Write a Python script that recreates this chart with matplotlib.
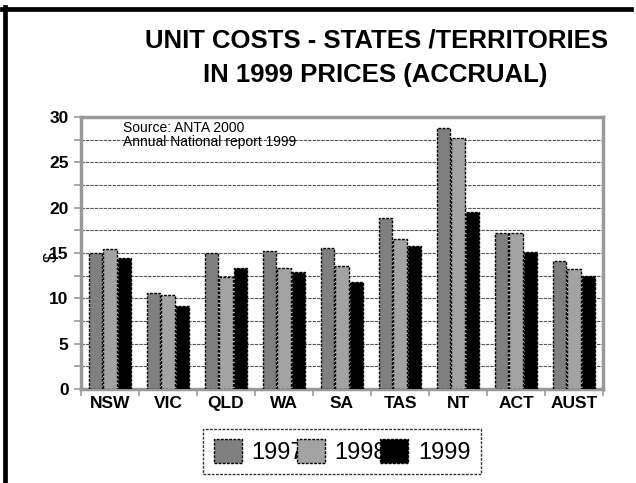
import matplotlib
import numpy as np

matplotlib.use("Agg")
import matplotlib.pyplot as plt
from matplotlib.lines import Line2D
from matplotlib.patches import Patch

plt.rcParams["font.family"] = ["Liberation Sans", "DejaVu Sans"]

# Unit costs ($/hour)
states = ["NSW", "VIC", "QLD", "WA", "SA", "TAS", "NT", "ACT", "AUST"]
years = ["1997", "1998", "1999"]
cost_1997 = [15.0, 10.6, 15.0, 15.2, 15.6, 18.9, 28.8, 17.2, 14.1]
cost_1998 = [15.4, 10.4, 12.3, 13.4, 13.6, 16.5, 27.7, 17.2, 13.2]
cost_1999 = [14.5, 9.2, 13.4, 12.9, 11.8, 15.8, 19.5, 15.1, 12.5]
colors = ["#808080", "#a3a3a3", "#000000"]

W, H = 636, 483
fig = plt.figure(figsize=(W / 100, H / 100), dpi=100)
ax = fig.add_axes([81 / W, 1 - 389 / H, 522 / W, 272 / H])

x = np.arange(len(states))
bw = 0.25
dash = (0, (2, 1))
for i, (vals, col) in enumerate(zip([cost_1997, cost_1998, cost_1999], colors)):
    ax.bar(x + (i - 1) * bw, vals, width=bw * 0.95, color=col, edgecolor="black",
           linewidth=1.0, linestyle=dash, zorder=3)

ax.set_xlim(-0.5, len(states) - 0.5)
ax.set_ylim(0, 30)
ax.set_yticks(np.arange(0, 31, 5))
ax.set_yticks(np.arange(0, 31, 2.5), minor=True)
ax.set_xticks(x)
ax.set_xticklabels(states, fontsize=12.5, fontweight="bold")
ax.set_xticks(np.arange(-0.5, len(states), 1), minor=True)
for lab in ax.get_yticklabels():
    lab.set_fontsize(12.5)
    lab.set_fontweight("bold")
ax.tick_params(axis="x", which="major", length=0, pad=5)
ax.tick_params(axis="x", which="minor", length=5, color="#999999", width=1.2, direction="out")
ax.tick_params(axis="y", which="both", length=5, color="#999999", width=1.2, pad=4)
ax.grid(True, axis="y", which="both", linestyle=(0, (3, 1)), linewidth=0.8, color="#555555", zorder=1)
for sp in ax.spines.values():
    sp.set_color("#999999")
    sp.set_linewidth(2.5)

ax.text(0.08, 0.985, "Source: ANTA 2000\nAnnual National report 1999", transform=ax.transAxes,
        fontsize=10, va="top", ha="left", linespacing=0.95, zorder=4)

fig.text(52 / W, 1 - 257 / H, "$", rotation=90, fontsize=13, ha="center", va="center")

fig.text(377 / W, 1 - 40 / H, "UNIT COSTS - STATES /TERRITORIES", fontsize=18.5,
         fontweight="bold", ha="center", va="center")
fig.text(375 / W, 1 - 75 / H, "IN 1999 PRICES (ACCRUAL)", fontsize=18.5,
         fontweight="bold", ha="center", va="center")

handles = [Patch(facecolor=c, edgecolor="black", linewidth=1.0, linestyle=dash) for c in colors]
leg = fig.legend(handles, years, loc="center", bbox_to_anchor=(342 / W, 1 - 451.5 / H), ncol=3,
                 fontsize=17, frameon=True, fancybox=False, handlelength=1.2, handleheight=1.15,
                 handletextpad=0.4, columnspacing=-0.3, borderpad=0.45, borderaxespad=0)
leg.get_frame().set_edgecolor("black")
leg.get_frame().set_linestyle((0, (2, 1)))
leg.get_frame().set_linewidth(1.0)

# slide frame
fig.add_artist(Line2D([4.5 / W, 4.5 / W], [0, 1 - 7 / H], color="black", linewidth=3.4,
                      transform=fig.transFigure))
fig.add_artist(Line2D([2 / W, 631 / W], [1 - 9 / H, 1 - 9 / H], color="black", linewidth=3.4,
                      transform=fig.transFigure))

fig.savefig("out.png", dpi=100)
